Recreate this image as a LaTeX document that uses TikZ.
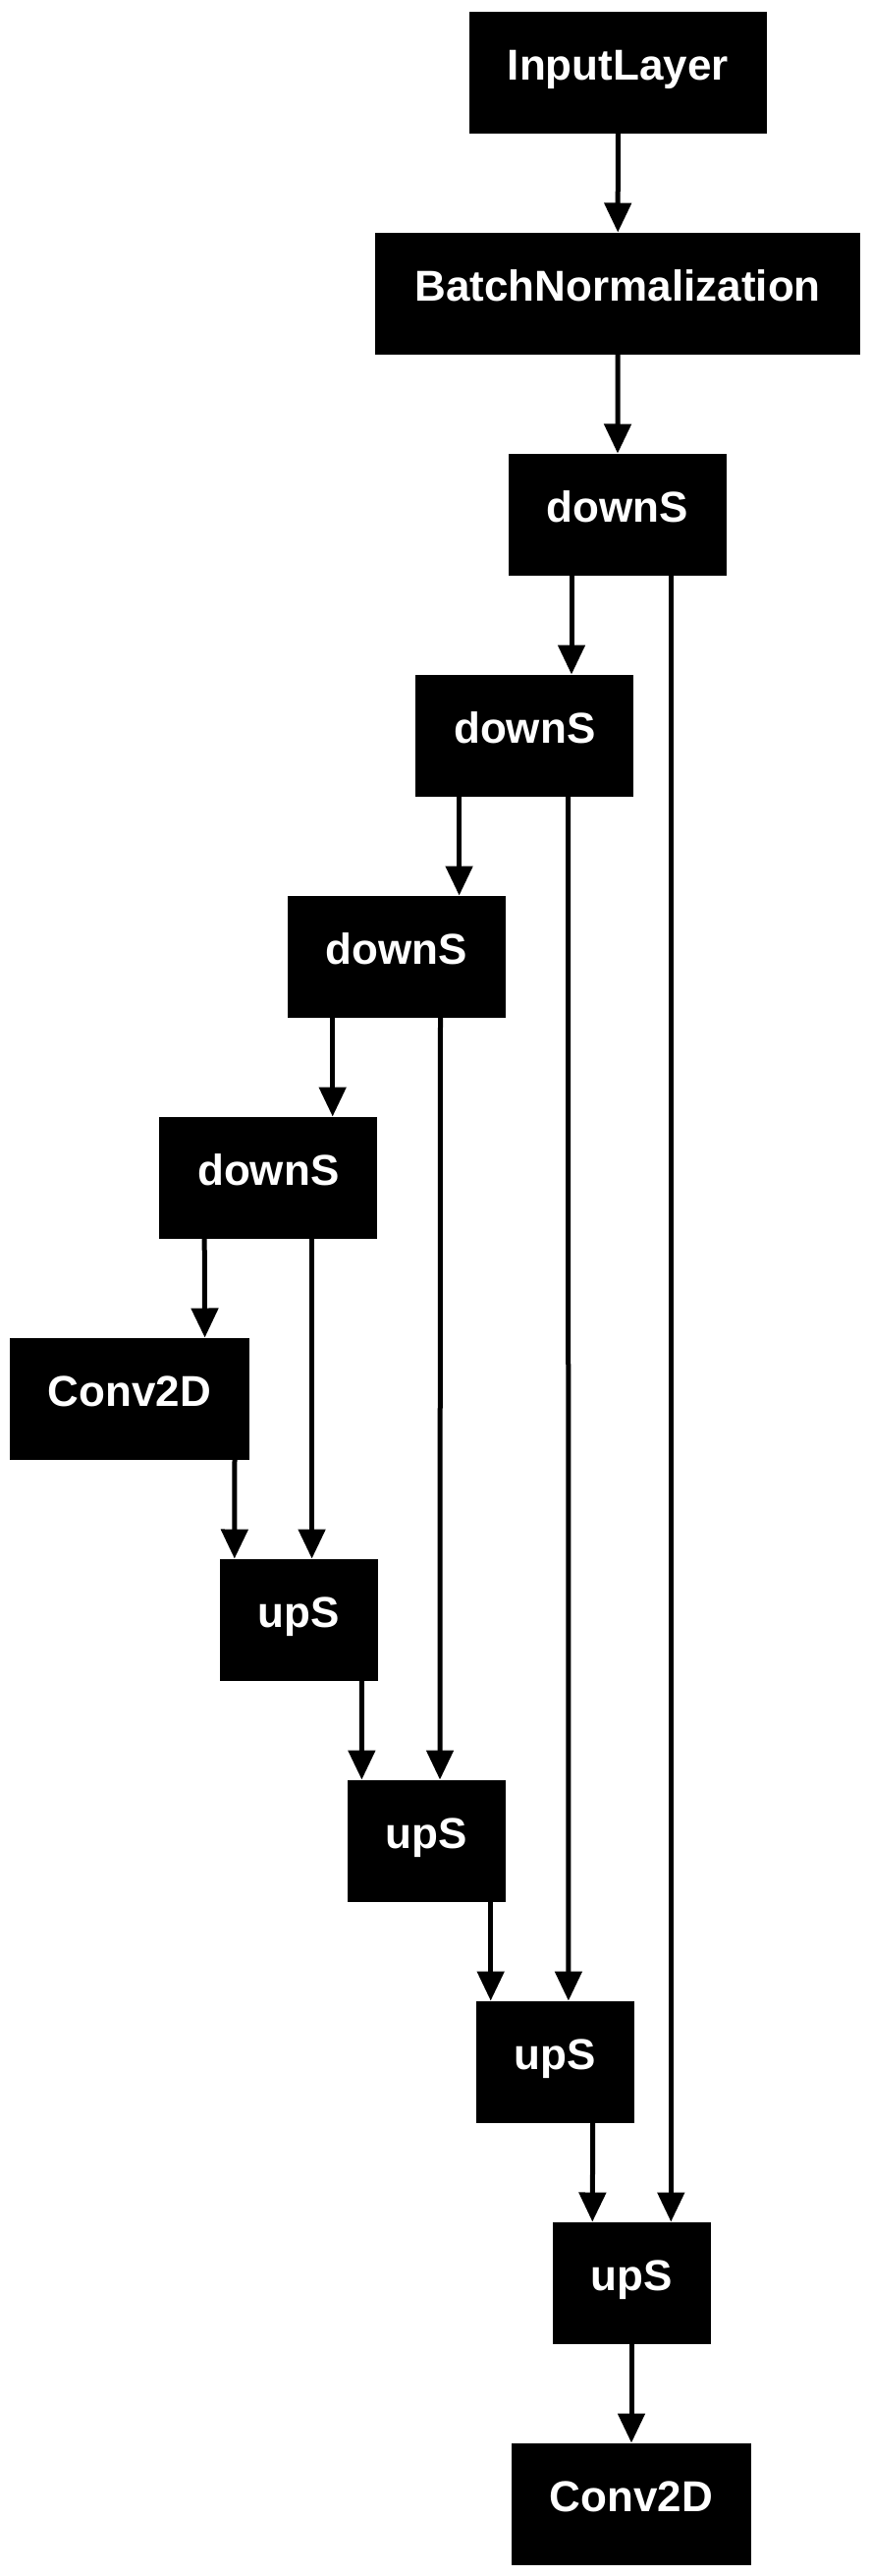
\documentclass[tikz,border=0pt]{standalone}
\usepackage{fontspec}
\setmainfont{Liberation Sans}
\usetikzlibrary{arrows.meta}
\begin{document}
\begin{tikzpicture}[x=1pt,y=-1pt,
  layer/.style={fill=black, draw=none, inner sep=0pt, anchor=north,
    minimum height=124pt, text height=69.5pt, text depth=54.5pt,
    text=white, font=\fontsize{44pt}{50pt}\selectfont\bfseries},
  conn/.style={line width=5pt, -{Triangle[length=30pt,width=27pt]}}]
\fill[white] (0,0) rectangle (886,2622);
\useasboundingbox (0,0) rectangle (886,2622);
\node[layer, minimum width=302.7pt] (in) at (629.3,11.5) {InputLayer};
\node[layer, minimum width=494.3pt] (bn) at (629.2,236.5) {BatchNormalization};
\node[layer, minimum width=222pt] (d1) at (629,461.5) {downS};
\node[layer, minimum width=222pt] (d2) at (534.3,686.5) {downS};
\node[layer, minimum width=222pt] (d3) at (404,911.5) {downS};
\node[layer, minimum width=222pt] (d4) at (273.3,1136.5) {downS};
\node[layer, minimum width=244pt] (c1) at (131.8,1361.5) {Conv2D};
\node[layer, minimum width=161pt] (u1) at (304.3,1586.5) {upS};
\node[layer, minimum width=161pt] (u2) at (434.5,1811.5) {upS};
\node[layer, minimum width=161pt] (u3) at (565.4,2036.5) {upS};
\node[layer, minimum width=161pt] (u4) at (643,2261.5) {upS};
\node[layer, minimum width=244pt] (c2) at (643,2486.5) {Conv2D};
\draw[conn] (in.south) -- (bn.north);
\draw[conn] (bn.south) -- (d1.north);
\draw[conn] ([xshift=-47pt]d1.south) -- ([xshift=47.7pt]d2.north);
\draw[conn] ([xshift=54.3pt]d1.south) -- ([xshift=40.3pt]u4.north);
\draw[conn] ([xshift=-66.7pt]d2.south) -- ([xshift=63.6pt]d3.north);
\draw[conn] ([xshift=44.3pt]d2.south) -- ([xshift=13.5pt]u3.north);
\draw[conn] ([xshift=-65.3pt]d3.south) -- ([xshift=65.4pt]d4.north);
\draw[conn] ([xshift=44.5pt]d3.south) -- ([xshift=13.5pt]u2.north);
\draw[conn] ([xshift=-65.1pt]d4.south) -- ([xshift=76.8pt]c1.north);
\draw[conn] ([xshift=44.3pt]d4.south) -- ([xshift=13.3pt]u1.north);
\draw[conn] ([xshift=107.2pt]c1.south) -- ([xshift=-65.5pt]u1.north);
\draw[conn] ([xshift=64pt]u1.south) -- ([xshift=-66.1pt]u2.north);
\draw[conn] ([xshift=65.2pt]u2.south) -- ([xshift=-65.7pt]u3.north);
\draw[conn] ([xshift=38.3pt]u3.south) -- ([xshift=-39.7pt]u4.north);
\draw[conn] (u4.south) -- (c2.north);
\end{tikzpicture}
\end{document}
